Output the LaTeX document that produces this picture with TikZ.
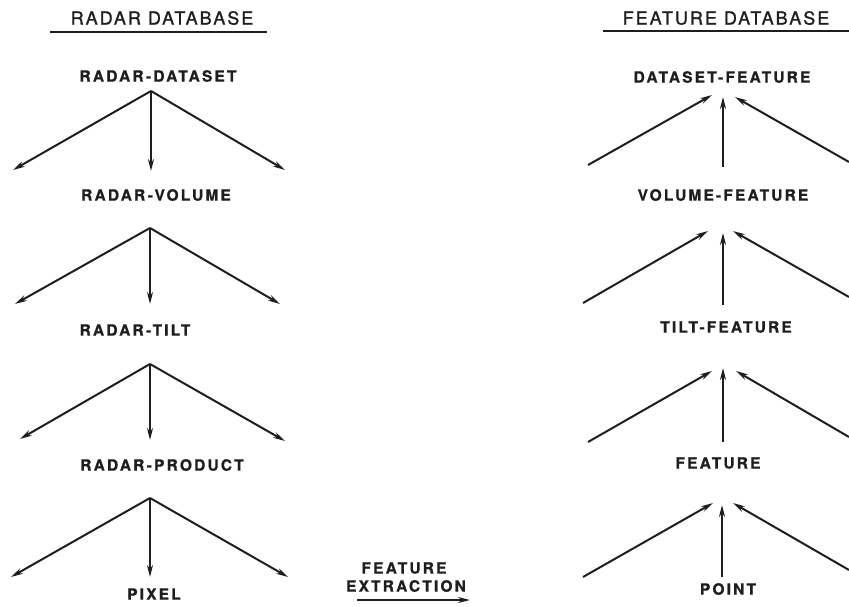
\documentclass[tikz,border=0pt]{standalone}
\usepackage{fontspec}
\usetikzlibrary{arrows.meta}
\newfontfamily\labfont[LetterSpace=14,FakeBold=0.8]{TeX Gyre Heros}
\newfontfamily\titfont[LetterSpace=11,FakeBold=1.2]{TeX Gyre Heros}
\definecolor{ink}{HTML}{1E1E1E}
\tikzset{
  lab/.style={inner sep=0pt, text=ink, font=\labfont\bfseries\fontsize{15.5}{18}\selectfont},
  tit/.style={inner sep=0pt, text=ink, font=\titfont\fontsize{18}{20}\selectfont},
  conn/.style={draw=ink, line width=2pt, -{Stealth[length=12pt,width=6pt]}},
  rule/.style={draw=ink, line width=2.4pt}
}
\begin{document}
\begin{tikzpicture}[x=1pt,y=-1pt]
\useasboundingbox (0,0) rectangle (849,606);
% titles
\node[tit] (tl) at (162,18) {RADAR DATABASE};
\coordinate (tla) at (50,32); \coordinate (tlb) at (267,32);
\draw[rule] (tla) -- (tlb);
\node[tit] (tr) at (726,18) {FEATURE DATABASE};
\coordinate (tra) at (603,31); \coordinate (trb) at (849,31);
\draw[rule] (tra) -- (trb);
% left labels
\node[lab] (rd) at (158,76) {RADAR-DATASET};
\node[lab] (rv) at (156,195) {RADAR-VOLUME};
\node[lab] (rt) at (135,330) {RADAR-TILT};
\node[lab] (rp) at (162,465) {RADAR-PRODUCT};
\node[lab] (px) at (154,594) {PIXEL};
% left section 1
\coordinate (a1) at (151,91);
\coordinate (a1l) at (13,170); \coordinate (a1m) at (151,171); \coordinate (a1r) at (285,170);
\draw[conn] (a1) -- (a1l); \draw[conn] (a1) -- (a1m); \draw[conn] (a1) -- (a1r);
% left section 2
\coordinate (a2) at (150,228);
\coordinate (a2l) at (15,304); \coordinate (a2m) at (150,304); \coordinate (a2r) at (280,304);
\draw[conn] (a2) -- (a2l); \draw[conn] (a2) -- (a2m); \draw[conn] (a2) -- (a2r);
% left section 3
\coordinate (a3) at (150,364);
\coordinate (a3l) at (20,439); \coordinate (a3m) at (150,440); \coordinate (a3r) at (285,441);
\draw[conn] (a3) -- (a3l); \draw[conn] (a3) -- (a3m); \draw[conn] (a3) -- (a3r);
% left section 4
\coordinate (a4) at (150,498);
\coordinate (a4l) at (11,577); \coordinate (a4m) at (150,577); \coordinate (a4r) at (288,577);
\draw[conn] (a4) -- (a4l); \draw[conn] (a4) -- (a4m); \draw[conn] (a4) -- (a4r);
% right labels
\node[lab] (df) at (722,77) {DATASET-FEATURE};
\node[lab] (vf) at (723,195) {VOLUME-FEATURE};
\node[lab] (tf) at (726,327) {TILT-FEATURE};
\node[lab] (ft) at (718,463) {FEATURE};
\node[lab] (pt) at (728,589) {POINT};
% right section 1
\coordinate (b1ls) at (588,165); \coordinate (b1le) at (712,95);
\coordinate (b1ms) at (723,167); \coordinate (b1me) at (723,97);
\coordinate (b1rs) at (849,162); \coordinate (b1re) at (735,97);
\draw[conn] (b1ls) -- (b1le); \draw[conn] (b1ms) -- (b1me); \draw[conn] (b1rs) -- (b1re);
% right section 2
\coordinate (b2ls) at (583,303); \coordinate (b2le) at (708,231);
\coordinate (b2ms) at (723,305); \coordinate (b2me) at (723,233);
\coordinate (b2rs) at (849,297); \coordinate (b2re) at (733,231);
\draw[conn] (b2ls) -- (b2le); \draw[conn] (b2ms) -- (b2me); \draw[conn] (b2rs) -- (b2re);
% right section 3
\coordinate (b3ls) at (588,442); \coordinate (b3le) at (712,371);
\coordinate (b3ms) at (723,442); \coordinate (b3me) at (723,368);
\coordinate (b3rs) at (849,437); \coordinate (b3re) at (736,371);
\draw[conn] (b3ls) -- (b3le); \draw[conn] (b3ms) -- (b3me); \draw[conn] (b3rs) -- (b3re);
% right section 4
\coordinate (b4ls) at (583,577); \coordinate (b4le) at (713,503);
\coordinate (b4ms) at (722,577); \coordinate (b4me) at (722,505);
\coordinate (b4rs) at (849,570); \coordinate (b4re) at (733,503);
\draw[conn] (b4ls) -- (b4le); \draw[conn] (b4ms) -- (b4me); \draw[conn] (b4rs) -- (b4re);
% feature extraction
\node[lab] (fe1) at (404,568) {FEATURE};
\node[lab] (fe2) at (406,586) {EXTRACTION};
\coordinate (fxa) at (357,600); \coordinate (fxb) at (470,600);
\draw[conn, line width=2.6pt] (fxa) -- (fxb);
\end{tikzpicture}
\end{document}
